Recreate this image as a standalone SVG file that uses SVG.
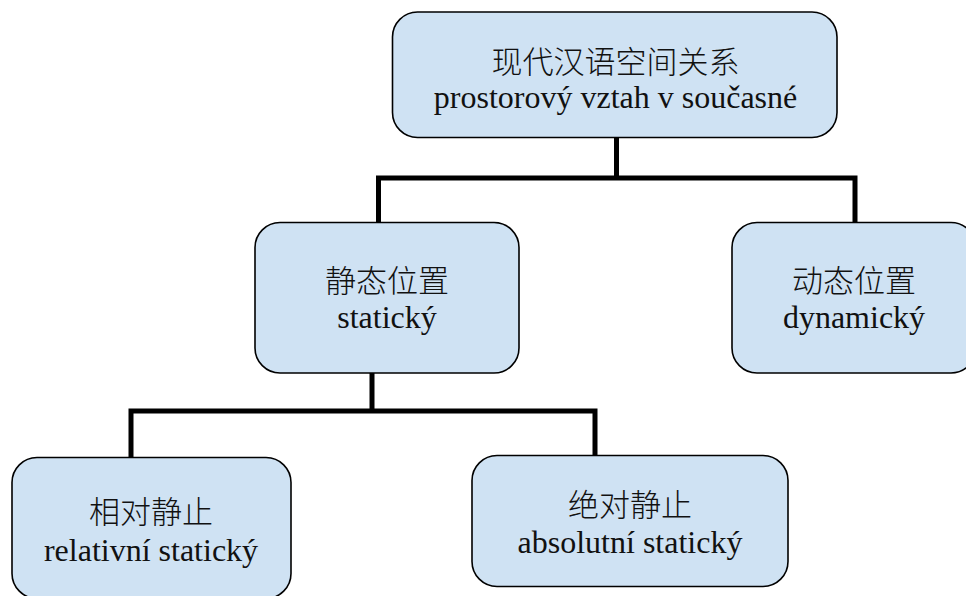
<svg xmlns="http://www.w3.org/2000/svg" width="966" height="596" viewBox="0 0 966 596">
  <style>
    .node { fill: #cfe2f3; stroke: #000; stroke-width: 1.6; }
    .conn { fill: none; stroke: #000; stroke-width: 5; stroke-linejoin: miter; stroke-linecap: butt; }
    .zh { font-family: "Noto Sans CJK SC", sans-serif; font-weight: 300; font-size: 31px; fill: #111; text-anchor: middle; }
    .la { font-family: "Liberation Serif", "DejaVu Serif", serif; font-size: 32px; fill: #111; text-anchor: middle; }
  </style>
  <rect width="966" height="596" fill="#fff"/>
  <g id="connectors">
    <path class="conn" d="M616.5,137 V178 M378.5,222 V178 H855 V222"/>
    <path class="conn" d="M372,373 V411 M131,457 V411 H595 V455"/>
  </g>
  <g id="node-root">
    <rect class="node" x="392.5" y="12" width="444.5" height="125.5" rx="25" ry="25"/>
    <text class="zh" x="615.5" y="72.5">现代汉语空间关系</text>
    <text class="la" x="615.5" y="108">prostorový vztah v současné</text>
  </g>
  <g id="node-static">
    <rect class="node" x="255" y="222.5" width="264" height="150.5" rx="25" ry="25"/>
    <text class="zh" x="387" y="292">静态位置</text>
    <text class="la" x="387" y="328">statický</text>
  </g>
  <g id="node-dynamic">
    <rect class="node" x="732" y="222.5" width="244" height="150.5" rx="25" ry="25"/>
    <text class="zh" x="854" y="292">动态位置</text>
    <text class="la" x="854" y="328">dynamický</text>
  </g>
  <g id="node-relative">
    <rect class="node" x="12" y="457.5" width="279" height="141" rx="25" ry="25"/>
    <text class="zh" x="151" y="523">相对静止</text>
    <text class="la" x="151" y="561">relativní statický</text>
  </g>
  <g id="node-absolute">
    <rect class="node" x="472" y="455.5" width="316" height="131" rx="25" ry="25"/>
    <text class="zh" x="630" y="516">绝对静止</text>
    <text class="la" x="630" y="553">absolutní statický</text>
  </g>
</svg>
